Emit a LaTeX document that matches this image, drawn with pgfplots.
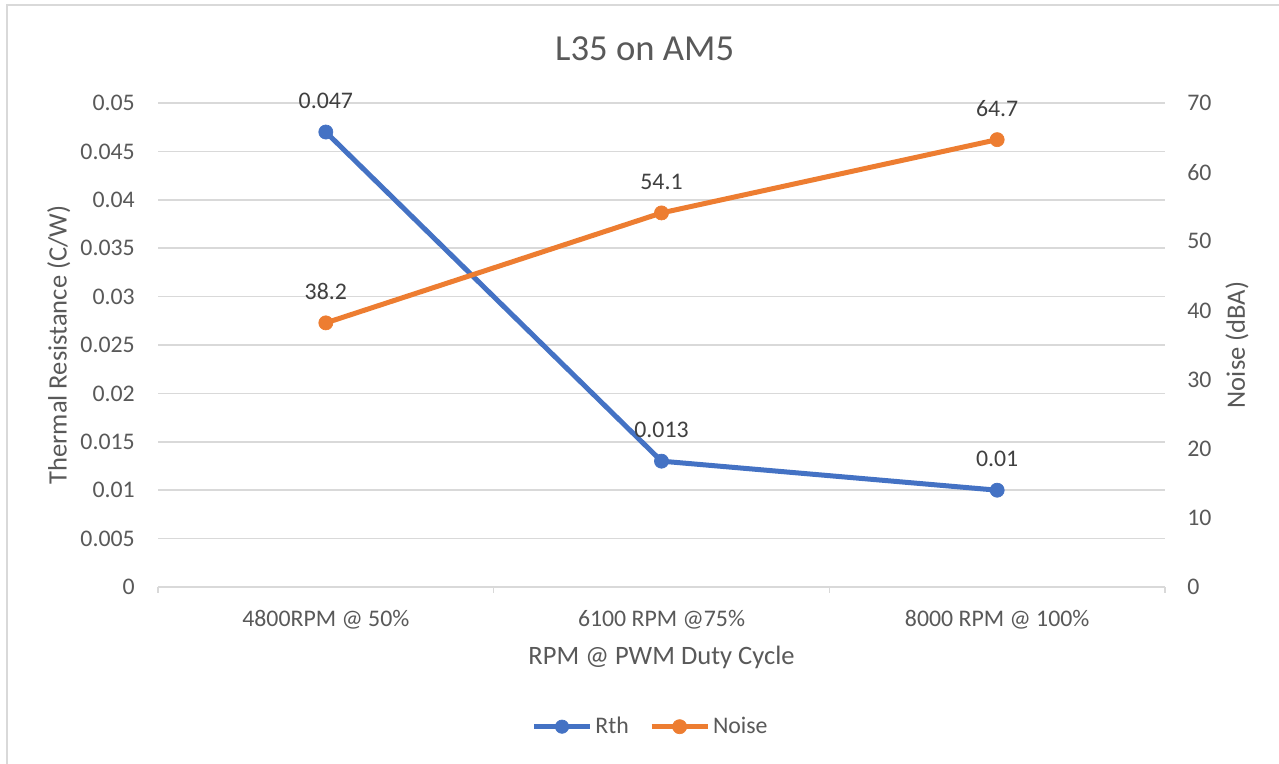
\documentclass[border=0pt]{standalone}
\usepackage{fontspec}
\setmainfont{Carlito}
\usepackage{pgfplots}
\pgfplotsset{compat=1.18}
\definecolor{rth}{RGB}{68,114,196}
\definecolor{noise}{RGB}{237,125,49}
\definecolor{txt}{RGB}{89,89,89}
\definecolor{lbl}{RGB}{64,64,64}
\definecolor{grd}{RGB}{217,217,217}
\newcommand{\tickfont}{\fontsize{17.85pt}{21pt}\selectfont}
\newcommand{\titlefont}{\fontsize{27.5pt}{32pt}\selectfont}
\newcommand{\labfont}{\fontsize{19.9pt}{24pt}\selectfont}
\begin{document}
\begin{tikzpicture}[x=0.75pt,y=0.75pt]
\useasboundingbox (0,0) rectangle (1279,764);
\fill[white] (0,0) rectangle (1279,764);
\draw[grd, line width=1.4pt] (7,759) rectangle (1300,-20);
\node[anchor=base, text=txt, font=\titlefont, inner sep=0pt] at (644.7,703.3) {L35 on AM5};
\pgfplotsset{
  common/.style={
    scale only axis, width=755.25pt, height=363pt,
    at={(118.5pt,132.75pt)}, anchor=south west,
    xmin=-0.5, xmax=2.5, clip=false,
    axis line style={draw=none},
    tick label style={font=\tickfont, text=txt},
    scaled y ticks=false,
  }
}
\begin{axis}[common,
  ymin=0, ymax=0.05,
  ytick={0,0.005,0.01,0.015,0.02,0.025,0.03,0.035,0.04,0.045,0.05},
  yticklabels={0,0.005,0.01,0.015,0.02,0.025,0.03,0.035,0.04,0.045,0.05},
  ytick style={draw=none},
  yticklabel style={anchor=east, inner sep=0pt, xshift=-17.25pt},
  ymajorgrids, grid style={grd, line width=1.1pt},
  xtick={0,1,2},
  xticklabels={4800RPM @ 50\%, 6100 RPM @75\%, 8000 RPM @ 100\%},
  major tick length=0pt,
  xtick pos=bottom, tick align=outside,
  xticklabel style={anchor=base, inner sep=0pt, yshift=-30pt},
  extra x ticks={-0.5,0.5,1.5,2.5},
  extra x tick labels={},
  extra x tick style={major tick length=4.5pt, tick style={grd, line width=1.1pt}, grid=none},
  xlabel={RPM @ PWM Duty Cycle},
  every axis x label/.style={at={(axis description cs:0.5,-0.1597)}, anchor=base, inner sep=0pt, font=\labfont, text=txt},
  ylabel={Thermal Resistance (C/W)},
  every axis y label/.style={at={(axis description cs:-0.0907,0.5)}, anchor=base, inner sep=0pt, rotate=90, font=\labfont, text=txt},
]
\addplot[rth, line width=3.75pt, mark=*, mark size=5.3pt, mark options={line width=0.5pt, fill=rth},
  nodes near coords, point meta=explicit symbolic,
  every node near coord/.append style={anchor=center, yshift=23.6pt, font=\tickfont, text=lbl}]
  coordinates {(0,0.047) [0.047] (1,0.013) [0.013] (2,0.01) [0.01]};
\end{axis}
\begin{axis}[common,
  ymin=0, ymax=70,
  ytick={0,10,20,30,40,50,60,70},
  yticklabels={0,10,20,30,40,50,60,70},
  yticklabel pos=right,
  ytick style={draw=none},
  yticklabel style={anchor=west, inner sep=0pt, xshift=16.5pt},
  xtick=\empty,
  ylabel={Noise (dBA)},
  every axis y label/.style={at={(axis description cs:1.0794,0.5)}, anchor=base, inner sep=0pt, rotate=90, font=\labfont, text=txt},
  legend image code/.code={\draw[mark repeat=2,mark phase=2,#1] plot coordinates {(0pt,0pt)(21pt,0pt)(42pt,0pt)};},
  legend columns=2,
  legend style={at={(0.4896,-0.2886)}, anchor=center, draw=none, fill=none, font=\tickfont, text=txt,
    /tikz/every even column/.append style={column sep=13pt}, nodes={inner sep=2.2pt}},
]
\addlegendimage{rth, line width=3.75pt, mark=*, mark size=5pt, mark options={line width=0.5pt, fill=rth}}
\addlegendentry{Rth}
\addplot[noise, line width=3.75pt, mark=*, mark size=5.3pt, mark options={line width=0.5pt, fill=noise},
  nodes near coords, point meta=explicit symbolic,
  every node near coord/.append style={anchor=center, yshift=23.6pt, font=\tickfont, text=lbl}]
  coordinates {(0,38.2) [38.2] (1,54.1) [54.1] (2,64.7) [64.7]};
\addlegendentry{Noise}
\end{axis}
\end{tikzpicture}
\end{document}
